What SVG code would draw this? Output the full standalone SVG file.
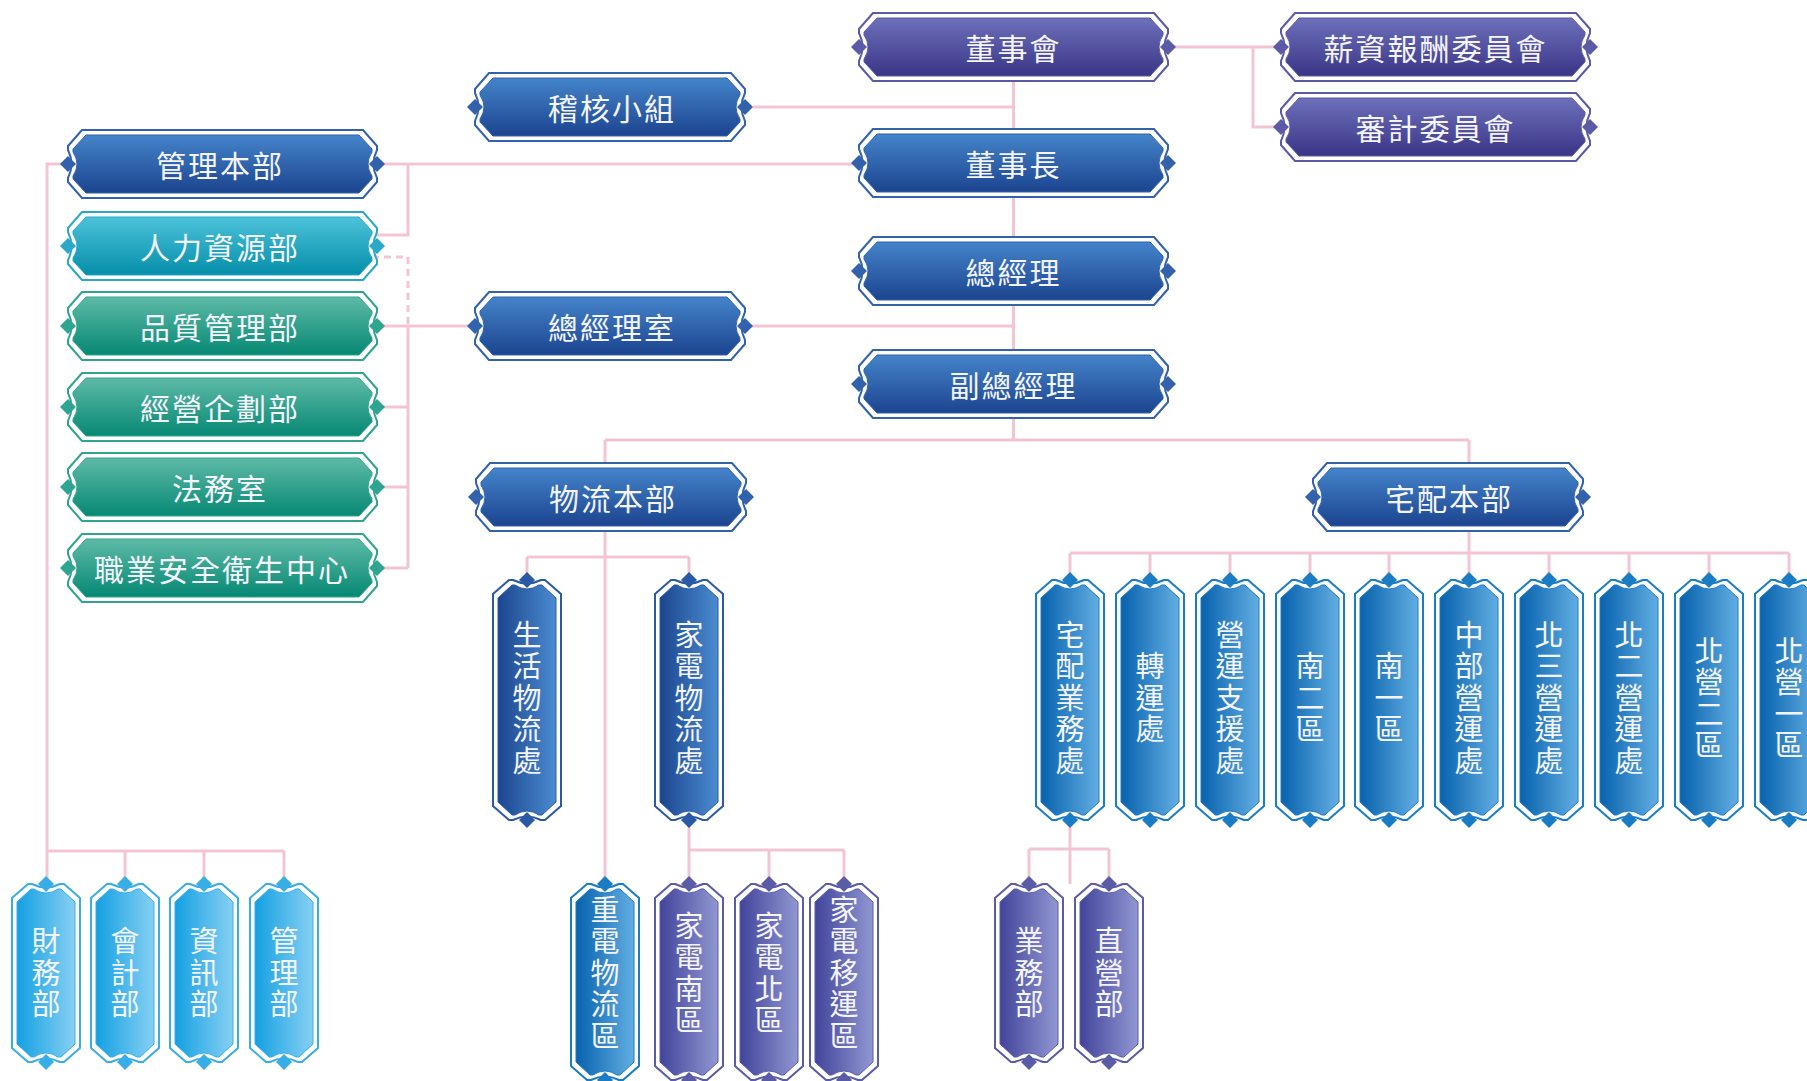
<svg xmlns="http://www.w3.org/2000/svg" width="1807" height="1081" viewBox="0 0 1807 1081">
<style>
.t{font-family:"Noto Sans CJK TC","Noto Sans CJK SC",sans-serif;font-size:30px;fill:#f4f4fb;text-anchor:middle;dominant-baseline:central;letter-spacing:2px}
.v{font-family:"Noto Sans CJK TC","Noto Sans CJK SC",sans-serif;font-size:29px;fill:#f4f4fb;text-anchor:middle;writing-mode:vertical-rl;text-orientation:upright;letter-spacing:2.5px}
.pur{color:#5b5aa6;fill:url(#gPur)}
.blu{color:#3262ab;fill:url(#gBlu)}
.cya{color:#2aa8c8;fill:url(#gCya)}
.tea{color:#2fa590;fill:url(#gTea)}
.vblu{color:#2a5aa5;fill:url(#gVBlu)}
.vaz{color:#1a7cc4;fill:url(#gVAz)}
.vlt{color:#38ade6;fill:url(#gVLt)}
.vpur{color:#5a5ca8;fill:url(#gVPur)}
</style>
<defs>
<linearGradient id="gPur" x1="0" y1="0" x2="0" y2="1"><stop offset="0" stop-color="#6d70bb"/><stop offset="1" stop-color="#3a3586"/></linearGradient>
<linearGradient id="gBlu" x1="0" y1="0" x2="0" y2="1"><stop offset="0" stop-color="#4484ca"/><stop offset="1" stop-color="#1c448f"/></linearGradient>
<linearGradient id="gCya" x1="0" y1="0" x2="0" y2="1"><stop offset="0" stop-color="#4cc2da"/><stop offset="1" stop-color="#058ea9"/></linearGradient>
<linearGradient id="gTea" x1="0" y1="0" x2="0" y2="1"><stop offset="0" stop-color="#5dbaa7"/><stop offset="1" stop-color="#068873"/></linearGradient>
<linearGradient id="gVBlu" x1="0" y1="0" x2="1" y2="0"><stop offset="0" stop-color="#1c468f"/><stop offset="1" stop-color="#4a8bd0"/></linearGradient>
<linearGradient id="gVAz" x1="0" y1="0" x2="1" y2="0"><stop offset="0" stop-color="#0862ad"/><stop offset="1" stop-color="#62aee2"/></linearGradient>
<linearGradient id="gVLt" x1="0" y1="0" x2="1" y2="0"><stop offset="0" stop-color="#14a0e2"/><stop offset="1" stop-color="#86d0f3"/></linearGradient>
<linearGradient id="gVPur" x1="0" y1="0" x2="1" y2="0"><stop offset="0" stop-color="#42449a"/><stop offset="1" stop-color="#9197d2"/></linearGradient>
<g id="h309">
<path fill="#fff" stroke="currentColor" stroke-width="2" d="M14,0 H295 L309,16 V20 Q302,34 309,48 V52 L295,68 H14 L0,52 V48 Q7,34 0,20 V16 Z"/>
<path stroke="currentColor" stroke-width="1" d="M18,5 H291 L304,19 V22 Q296,34 304,46 V49 L291,63 H18 L5,49 V46 Q13,34 5,22 V19 Z"/>
<path fill="currentColor" d="M0,26 L8,34 L0,42 L-8,34 Z M309,26 L317,34 L309,42 L301,34 Z"/>
</g>
<g id="h270">
<path fill="#fff" stroke="currentColor" stroke-width="2" d="M14,0 H256 L270,16 V20 Q263,34 270,48 V52 L256,68 H14 L0,52 V48 Q7,34 0,20 V16 Z"/>
<path stroke="currentColor" stroke-width="1" d="M18,5 H252 L265,19 V22 Q257,34 265,46 V49 L252,63 H18 L5,49 V46 Q13,34 5,22 V19 Z"/>
<path fill="currentColor" d="M0,26 L8,34 L0,42 L-8,34 Z M270,26 L278,34 L270,42 L262,34 Z"/>
</g>
<g id="v240">
<path fill="#fff" stroke="currentColor" stroke-width="2" d="M16,0 H20 Q34,7 48,0 H52 L68,14 V226 L52,240 H48 Q34,233 20,240 H16 L0,226 V14 Z"/>
<path stroke="currentColor" stroke-width="1" d="M19,5 H22 Q34,13 46,5 H49 L63,18 V222 L49,235 H46 Q34,227 22,235 H19 L5,222 V18 Z"/>
<path fill="currentColor" d="M34,-8 L42,0 L34,8 L26,0 Z M34,232 L42,240 L34,248 L26,240 Z"/>
</g>
<g id="v178">
<path fill="#fff" stroke="currentColor" stroke-width="2" d="M16,0 H20 Q34,7 48,0 H52 L68,14 V164 L52,178 H48 Q34,171 20,178 H16 L0,164 V14 Z"/>
<path stroke="currentColor" stroke-width="1" d="M19,5 H22 Q34,13 46,5 H49 L63,18 V160 L49,173 H46 Q34,165 22,173 H19 L5,160 V18 Z"/>
<path fill="currentColor" d="M34,-8 L42,0 L34,8 L26,0 Z M34,170 L42,178 L34,186 L26,178 Z"/>
</g>
<g id="v196">
<path fill="#fff" stroke="currentColor" stroke-width="2" d="M16,0 H20 Q34,7 48,0 H52 L68,14 V182 L52,196 H48 Q34,189 20,196 H16 L0,182 V14 Z"/>
<path stroke="currentColor" stroke-width="1" d="M19,5 H22 Q34,13 46,5 H49 L63,18 V178 L49,191 H46 Q34,183 22,191 H19 L5,178 V18 Z"/>
<path fill="currentColor" d="M34,-8 L42,0 L34,8 L26,0 Z M34,188 L42,196 L34,204 L26,196 Z"/>
</g>
</defs>
<rect width="1807" height="1081" fill="#fff"/>
<g id="connectors" fill="none" stroke="#f3c5d3" stroke-width="3">
<path d="M1013.5,81 V440 M605,440 H1469 M605,440 V884 M1469,440 V580"/>
<path d="M753,107 H1013.5 M377,164 H859 M408,164 V235 H372"/>
<path d="M372,257 H408 V326" stroke-dasharray="7 5"/>
<path d="M372,326 H475 M408,326 V568 M372,407 H408 M372,487 H408 M372,568 H408 M745,326 H1013.5"/>
<path d="M1168,47 H1281 M1253,47 V127 H1281"/>
<path d="M527,557 H689 M527,557 V580 M689,557 V580"/>
<path d="M689,820 V884 M689,850 H844 M769,850 V884 M844,850 V884"/>
<path d="M1070,553 H1789 M1070,553 V580 M1150,553 V580 M1230,553 V580 M1310,553 V580 M1389,553 V580 M1549,553 V580 M1629,553 V580 M1709,553 V580 M1789,553 V580"/>
<path d="M1070,820 V884 M1029,849 H1109 M1029,849 V884 M1109,849 V884"/>
<path d="M68,164 H47 V884 M47,851 H284 M125,851 V884 M204,851 V884 M284,851 V884"/>
</g>
<g id="board"><use href="#h309" x="859" y="13" class="pur"/><text class="t" x="1013.5" y="47">董事會</text></g>
<g id="remuneration"><use href="#h309" x="1281" y="13" class="pur"/><text class="t" x="1435.5" y="47">薪資報酬委員會</text></g>
<g id="audit-committee"><use href="#h309" x="1281" y="93" class="pur"/><text class="t" x="1435.5" y="127">審計委員會</text></g>
<g id="audit-team"><use href="#h270" x="475" y="73" class="blu"/><text class="t" x="612" y="107">稽核小組</text></g>
<g id="chairman"><use href="#h309" x="859" y="129" class="blu"/><text class="t" x="1013.5" y="163">董事長</text></g>
<g id="gm"><use href="#h309" x="859" y="237" class="blu"/><text class="t" x="1013.5" y="271">總經理</text></g>
<g id="gm-office"><use href="#h270" x="475" y="292" class="blu"/><text class="t" x="612" y="326">總經理室</text></g>
<g id="vgm"><use href="#h309" x="859" y="350" class="blu"/><text class="t" x="1013.5" y="384">副總經理</text></g>
<g id="admin-hq"><use href="#h309" x="68" y="130" class="blu"/><text class="t" x="220" y="164">管理本部</text></g>
<g id="hr"><use href="#h309" x="68" y="212" class="cya"/><text class="t" x="220" y="246">人力資源部</text></g>
<g id="qm"><use href="#h309" x="68" y="292" class="tea"/><text class="t" x="220" y="326">品質管理部</text></g>
<g id="planning"><use href="#h309" x="68" y="373" class="tea"/><text class="t" x="220" y="407">經營企劃部</text></g>
<g id="legal"><use href="#h309" x="68" y="453" class="tea"/><text class="t" x="220" y="487">法務室</text></g>
<g id="safety"><use href="#h309" x="68" y="534" class="tea"/><text class="t" x="222" y="568">職業安全衛生中心</text></g>
<g id="logistics-hq"><use href="#h270" x="476" y="463" class="blu"/><text class="t" x="613" y="497">物流本部</text></g>
<g id="delivery-hq"><use href="#h270" x="1313" y="463" class="blu"/><text class="t" x="1449" y="497">宅配本部</text></g>
<g id="life-logistics"><use href="#v240" x="493" y="580" class="vblu"/><text class="v" x="527" y="699">生活物流處</text></g>
<g id="appliance-logistics"><use href="#v240" x="655" y="580" class="vblu"/><text class="v" x="689" y="699">家電物流處</text></g>
<g id="d-business"><use href="#v240" x="1036" y="580" class="vaz"/><text class="v" x="1070" y="699">宅配業務處</text></g>
<g id="d-transfer"><use href="#v240" x="1116" y="580" class="vaz"/><text class="v" x="1150" y="699">轉運處</text></g>
<g id="d-support"><use href="#v240" x="1196" y="580" class="vaz"/><text class="v" x="1230" y="699">營運支援處</text></g>
<g id="d-south2"><use href="#v240" x="1276" y="580" class="vaz"/><text class="v" x="1310" y="699">南二區</text></g>
<g id="d-south1"><use href="#v240" x="1355" y="580" class="vaz"/><text class="v" x="1389" y="699">南一區</text></g>
<g id="d-central"><use href="#v240" x="1435" y="580" class="vaz"/><text class="v" x="1469" y="699">中部營運處</text></g>
<g id="d-north3"><use href="#v240" x="1515" y="580" class="vaz"/><text class="v" x="1549" y="699">北三營運處</text></g>
<g id="d-north2"><use href="#v240" x="1595" y="580" class="vaz"/><text class="v" x="1629" y="699">北二營運處</text></g>
<g id="d-north-op2"><use href="#v240" x="1675" y="580" class="vaz"/><text class="v" x="1709" y="699">北營二區</text></g>
<g id="d-north-op1"><use href="#v240" x="1755" y="580" class="vaz"/><text class="v" x="1789" y="699">北營一區</text></g>
<g id="finance"><use href="#v178" x="12" y="884" class="vlt"/><text class="v" x="46" y="974">財務部</text></g>
<g id="accounting"><use href="#v178" x="91" y="884" class="vlt"/><text class="v" x="125" y="974">會計部</text></g>
<g id="it"><use href="#v178" x="170" y="884" class="vlt"/><text class="v" x="204" y="974">資訊部</text></g>
<g id="management"><use href="#v178" x="250" y="884" class="vlt"/><text class="v" x="284" y="974">管理部</text></g>
<g id="heavy-appliance"><use href="#v196" x="571" y="884" class="vaz"/><text class="v" x="605" y="974">重電物流區</text></g>
<g id="appliance-south"><use href="#v196" x="655" y="884" class="vpur"/><text class="v" x="689" y="974">家電南區</text></g>
<g id="appliance-north"><use href="#v196" x="735" y="884" class="vpur"/><text class="v" x="769" y="974">家電北區</text></g>
<g id="appliance-move"><use href="#v196" x="810" y="884" class="vpur"/><text class="v" x="844" y="974">家電移運區</text></g>
<g id="sales"><use href="#v178" x="995" y="884" class="vpur"/><text class="v" x="1029" y="974">業務部</text></g>
<g id="direct"><use href="#v178" x="1075" y="884" class="vpur"/><text class="v" x="1109" y="974">直營部</text></g>
</svg>
